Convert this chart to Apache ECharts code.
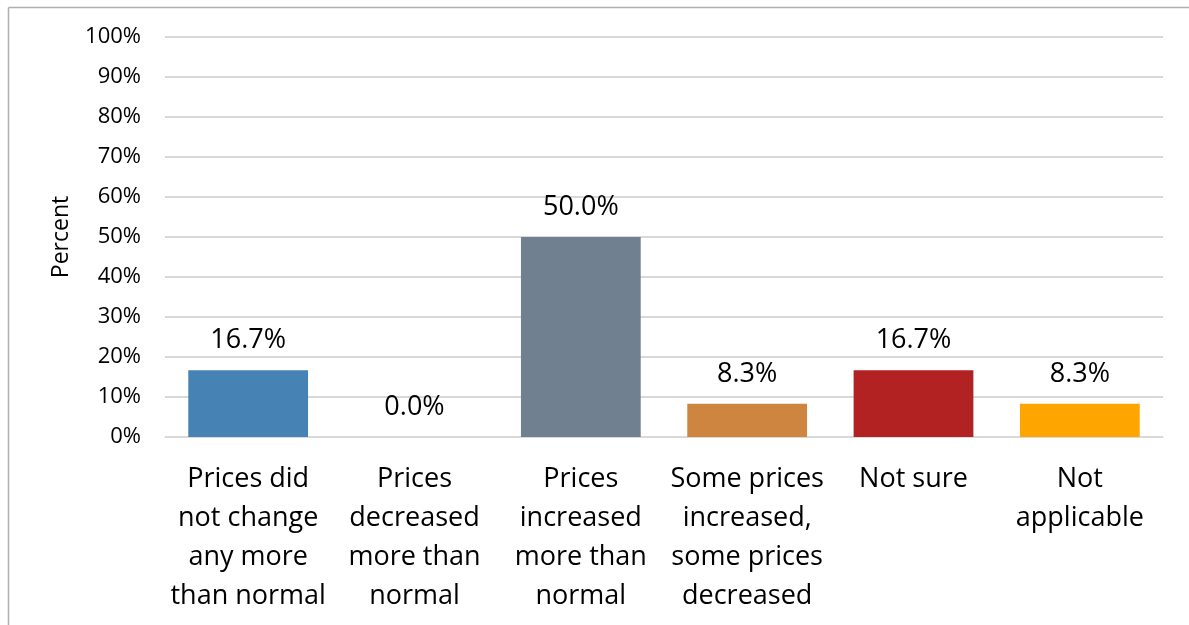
<!DOCTYPE html>
<html>
<head>
<meta charset="utf-8">
<script src="https://cdn.jsdelivr.net/npm/echarts@6/dist/echarts.min.js"></script>
<style>html,body{margin:0;padding:0;background:#fff;}#c{width:1189px;height:625px;}</style>
</head>
<body>
<div id="c"></div>
<script>
const categories = ["Prices did\nnot change\nany more\nthan normal", "Prices\ndecreased\nmore than\nnormal", "Prices\nincreased\nmore than\nnormal", "Some prices\nincreased,\nsome prices\ndecreased", "Not sure", "Not\napplicable"];
const values = [16.7, 0.0, 50.0, 8.3, 16.7, 8.3];
const colors = ["#4682B4", "#6A9FD0", "#708090", "#CD853F", "#B22222", "#FFA500"];
const yTicks = { min: 0, max: 100, interval: 10 };

const chart = echarts.init(document.getElementById('c'));
const font = '"Open Sans", sans-serif';
chart.setOption({
  animation: false,
  backgroundColor: '#fff',
  grid: { left: 165, right: 26, top: 37, bottom: 188, containLabel: false },
  graphic: [
    { type: 'line', shape: { x1: 8.5, y1: 7.5, x2: 1189, y2: 7.5 }, style: { stroke: '#b0b0b0', lineWidth: 1.5 } },
    { type: 'line', shape: { x1: 8.5, y1: 7.5, x2: 8.5, y2: 625 }, style: { stroke: '#b0b0b0', lineWidth: 1.5 } }
  ],
  xAxis: {
    type: 'category',
    data: categories,
    axisLine: { show: true, lineStyle: { color: '#d9d9d9', width: 1 } },
    axisTick: { show: false },
    axisLabel: { fontFamily: font, fontSize: 27, color: '#000', lineHeight: 39, margin: 23, interval: 0 }
  },
  yAxis: {
    type: 'value',
    min: yTicks.min, max: yTicks.max, interval: yTicks.interval,
    name: 'Percent',
    nameLocation: 'middle',
    nameRotate: 90,
    nameGap: 92,
    nameTextStyle: { fontFamily: font, fontSize: 23, color: '#000' },
    axisLine: { show: false },
    axisTick: { show: false },
    axisLabel: { fontFamily: font, fontSize: 22, color: '#000', margin: 24, formatter: v => v + '%' },
    splitLine: { lineStyle: { color: '#d9d9d9', width: 2 } }
  },
  series: [{
    type: 'bar',
    data: values.map((v, i) => ({ value: v, itemStyle: { color: colors[i] } })),
    barCategoryGap: '28%',
    label: {
      show: true, position: 'top', distance: 16,
      fontFamily: font, fontSize: 27, color: '#000',
      formatter: p => p.value.toFixed(1) + '%'
    }
  }]
});
</script>
</body>
</html>
